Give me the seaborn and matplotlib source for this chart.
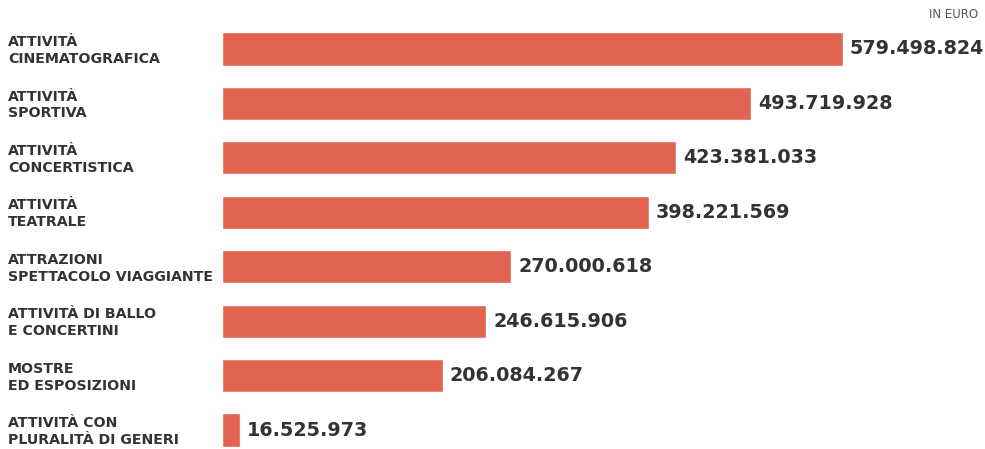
import matplotlib
matplotlib.use("Agg")
import matplotlib.pyplot as plt
import matplotlib.transforms as mtransforms
import seaborn as sns
import pandas as pd

categories = [
    "ATTIVITÀ\nCINEMATOGRAFICA",
    "ATTIVITÀ\nSPORTIVA",
    "ATTIVITÀ\nCONCERTISTICA",
    "ATTIVITÀ\nTEATRALE",
    "ATTRAZIONI\nSPETTACOLO VIAGGIANTE",
    "ATTIVITÀ DI BALLO\nE CONCERTINI",
    "MOSTRE\nED ESPOSIZIONI",
    "ATTIVITÀ CON\nPLURALITÀ DI GENERI",
]
values = [579498824, 493719928, 423381033, 398221569, 270000618, 246615906, 206084267, 16525973]
value_labels = ["579.498.824", "493.719.928", "423.381.033", "398.221.569",
                "270.000.618", "246.615.906", "206.084.267", "16.525.973"]

sns.set_theme(style="white")
plt.rcParams["font.family"] = ["DejaVu Sans"]

df = pd.DataFrame({"cat": categories, "val": values})

fig = plt.figure(figsize=(9.85, 4.49), dpi=100)
ax = fig.add_axes([222 / 985, 0, 1 - 222 / 985, 1])
sns.barplot(data=df, y="cat", x="val", orient="h", color="#E0644F",
            saturation=1, width=0.61, ax=ax)

ax.set_xlim(0, values[0] * 763 / 621)
ax.set_ylim((449 - 49) / 54.43, -49 / 54.43)
ax.axis("off")

trans = mtransforms.blended_transform_factory(fig.transFigure, ax.transData)
for i, (c, v, lab) in enumerate(zip(categories, values, value_labels)):
    ax.text(8 / 985, i + 0.03, c, transform=trans, ha="left", va="center",
            fontsize=10.2, color="#333333", linespacing=1.26, fontweight="bold")
    ax.text(v + values[0] * 7 / 621, i, lab, ha="left", va="center",
            fontsize=13.8, color="#333333", fontweight="bold")

fig.text(978 / 985, 1 - 15 / 449, "IN EURO", ha="right", va="center",
         fontsize=8.5, color="#555555")

fig.savefig("out.png", dpi=100)
